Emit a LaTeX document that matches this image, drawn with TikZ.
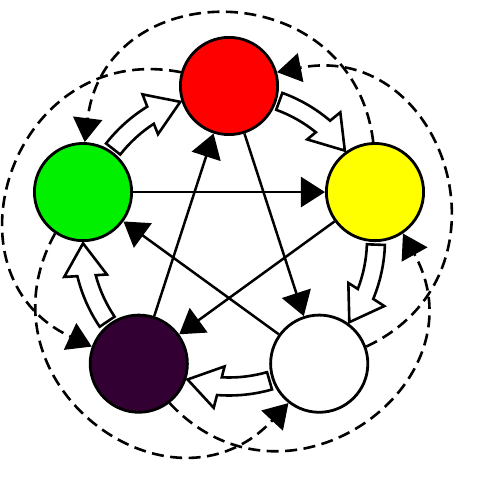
\documentclass[tikz,border=0pt]{standalone}
\usetikzlibrary{arrows.meta,calc}
\definecolor{firered}{RGB}{255,0,0}
\definecolor{woodgreen}{RGB}{0,240,0}
\definecolor{earthyellow}{RGB}{255,255,0}
\definecolor{waterpurple}{RGB}{51,0,51}
\begin{document}
\begin{tikzpicture}[x=1pt,y=1pt,
  element/.style={circle, draw=black, line width=2.8pt, minimum size=97.2pt, inner sep=0pt},
  overcome/.style={line width=2.5pt, -{Triangle[length=24pt,width=30pt]}},
  insult/.style={line width=2.6pt, dash pattern=on 12pt off 6.5pt, looseness=1.52, -{Triangle[length=24pt,width=29pt]}},
  generate/.style={line width=2.6pt, fill=white, draw=black, line join=miter},
]
\useasboundingbox (0,0) rectangle (497,481);
\coordinate (O) at (229,241.5);
% generating cycle: hollow curved block arrows
\foreach \s in {162,90,18,-54,-126} {
  \draw[generate] ($(O)+(\s-20:156)$) arc[start angle=\s-20, end angle=\s-40.4, radius=156]
    -- ($(O)+(\s-41.2:169)$) -- ($(O)+(\s-52.5:146)$) -- ($(O)+(\s-38:127)$)
    -- ($(O)+(\s-39:138)$) arc[start angle=\s-39, end angle=\s-20, radius=138] -- cycle;
}
% elements
\node[element, fill=firered] (fire) at ($(O)+(90:153.5)$) {};
\node[element, fill=woodgreen] (wood) at ($(O)+(162:153.5)$) {};
\node[element, fill=waterpurple] (water) at ($(O)+(234:153.5)$) {};
\node[element, fill=white] (metal) at ($(O)+(306:153.5)$) {};
\node[element, fill=earthyellow] (earth) at ($(O)+(18:153.5)$) {};
% overcoming cycle
\draw[overcome] (wood) -- (earth);
\draw[overcome] (earth) -- (water);
\draw[overcome] (water) -- (fire);
\draw[overcome] (fire) -- (metal);
\draw[overcome] (metal) -- (wood);
% insulting cycle
\draw[insult] (earth.92) to[out=97,in=83] (wood.88);
\draw[insult] (fire.164) to[out=169,in=155] (water.160);
\draw[insult] (wood.236) to[out=241,in=227] (metal.232);
\draw[insult] (water.308) to[out=313,in=299] (earth.304);
\draw[insult] (metal.20) to[out=25,in=11] (fire.16);
\end{tikzpicture}
\end{document}
